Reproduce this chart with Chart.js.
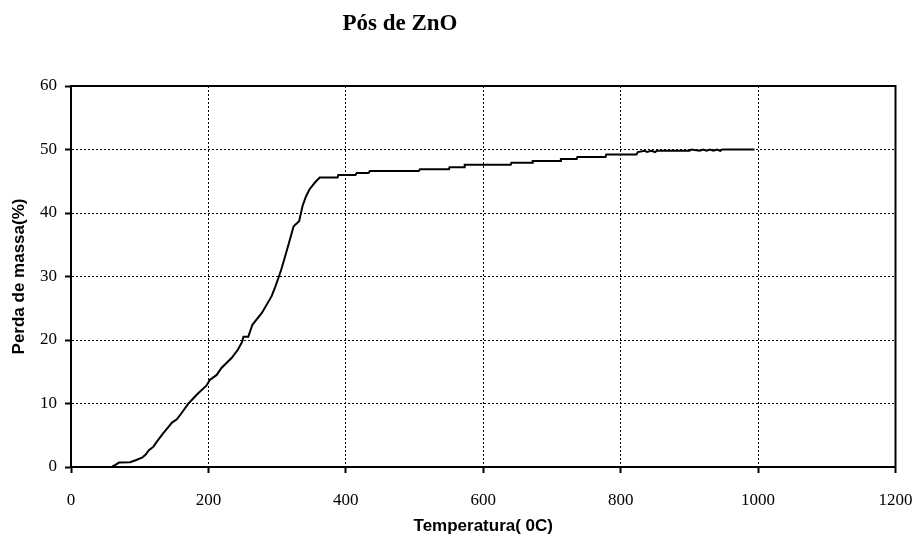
<!DOCTYPE html>
<html>
<head>
<meta charset="utf-8">
<script src="https://cdn.jsdelivr.net/npm/chart.js@4/dist/chart.umd.min.js"></script>
<style>
  html, body { margin: 0; padding: 0; background: #fff; }
  .wrap { position: relative; width: 914px; height: 537px; }
  .title {
    position: absolute; left: 0; top: 9px; width: 800px;
    text-align: center; font: bold 23px "Liberation Serif", "Times New Roman", serif;
    line-height: 27px; color: #000;
  }
</style>
</head>
<body>
<div class="wrap">
  <div class="title">Pós de ZnO</div>
  <canvas id="tgaChart" width="914" height="537"></canvas>
</div>
<script>
/* TGA curve */
const temperatures = [
  60, 64, 70, 86, 95, 104, 109, 113, 120, 125,
  134, 141, 147, 154, 161, 171, 184, 197, 202, 212,
  219, 234, 243, 249, 251, 258, 264, 278, 292, 297,
  302, 306, 311, 318, 324, 332, 337, 342, 347, 355,
  362, 388, 389, 414, 416, 433, 435, 506, 508, 550,
  551, 572, 573, 640, 641, 671, 672, 712, 713, 736,
  737, 778, 779, 823, 825, 835, 838, 845, 850, 853,
  900, 903, 915, 920, 925, 930, 935, 940, 945, 948,
  995
];
const massLoss = [
  0.1, 0.3, 0.7, 0.75, 1.1, 1.5, 2.0, 2.6, 3.2, 4.0,
  5.3, 6.2, 7.0, 7.5, 8.5, 10.0, 11.5, 12.8, 13.7, 14.5,
  15.6, 17.2, 18.5, 19.7, 20.5, 20.5, 22.4, 24.3, 26.9, 28.3,
  29.8, 31.1, 32.9, 35.6, 37.9, 38.7, 41.1, 42.6, 43.7, 44.8,
  45.6, 45.6, 46.0, 46.0, 46.3, 46.3, 46.6, 46.6, 46.9, 46.9,
  47.2, 47.2, 47.6, 47.6, 47.9, 47.9, 48.2, 48.2, 48.5, 48.5,
  48.8, 48.8, 49.2, 49.2, 49.6, 49.8, 49.6, 49.8, 49.6, 49.8,
  49.8, 50.0, 49.8, 50.0, 49.8, 50.0, 49.8, 50.0, 49.8, 50.0,
  50.0
];
const xTicks = [0, 200, 400, 600, 800, 1000, 1200];
const yTicks = [0, 10, 20, 30, 40, 50, 60];

const SERIF = "'Liberation Serif', 'Times New Roman', serif";
const SANS = "'Liberation Sans', Arial, sans-serif";

const points = temperatures.map((t, i) => ({ x: t, y: massLoss[i] }));

// grid lines at the frame edges are hidden, the frame is drawn solid instead
function gridColor(ticks) {
  return (ctx) => {
    const v = ctx.tick ? ctx.tick.value : null;
    return v === ticks[0] || v === ticks[ticks.length - 1] ? "rgba(0,0,0,0)" : "#000";
  };
}

const framePlugin = {
  id: "frame",
  afterDraw(chart) {
    const { ctx, chartArea: a } = chart;
    ctx.save();
    ctx.strokeStyle = "#000";
    ctx.lineWidth = 2;
    ctx.strokeRect(a.left, a.top, a.right - a.left, a.bottom - a.top);
    ctx.restore();
  },
};

new Chart(document.getElementById("tgaChart"), {
  type: "line",
  data: {
    datasets: [
      {
        data: points,
        borderColor: "#000",
        borderWidth: 2,
        pointRadius: 0,
        tension: 0,
        fill: false,
      },
    ],
  },
  options: {
    responsive: false,
    animation: false,
    layout: { padding: { top: 86, right: 0, left: 0, bottom: 0 } },
    plugins: {
      legend: { display: false },
      tooltip: { enabled: false },
    },
    scales: {
      x: {
        type: "linear",
        min: xTicks[0],
        max: xTicks[xTicks.length - 1],
        afterBuildTicks: (s) => { s.ticks = xTicks.map((v) => ({ value: v })); },
        afterFit: (s) => {
          s.height = 70;
          s.paddingLeft = 0;
          s.paddingRight = 18.5;
        },
        ticks: {
          color: "#000",
          padding: 17,
          maxRotation: 0,
          callback: (v) => String(v),
          font: { family: SERIF, size: 17 },
        },
        grid: {
          color: gridColor(xTicks),
          lineWidth: 1,
          tickColor: "#000",
          tickLength: 6,
          tickWidth: 2,
        },
        border: { display: true, color: "#000", width: 2, dash: [2, 2] },
        title: {
          display: true,
          text: "Temperatura( 0C)",
          color: "#000",
          padding: { top: 0, bottom: 0 },
          font: { family: SANS, size: 17, weight: "bold", lineHeight: 1.2 },
        },
      },
      y: {
        min: yTicks[0],
        max: yTicks[yTicks.length - 1],
        afterBuildTicks: (s) => { s.ticks = yTicks.map((v) => ({ value: v })); },
        afterFit: (s) => { s.width = 71; },
        ticks: {
          color: "#000",
          padding: 8,
          callback: (v) => String(v),
          font: { family: SERIF, size: 17 },
        },
        grid: {
          color: gridColor(yTicks),
          lineWidth: 1,
          tickColor: "#000",
          tickLength: 6,
          tickWidth: 2,
        },
        border: { display: true, color: "#000", width: 2, dash: [2, 2] },
        title: {
          display: true,
          text: "Perda de massa(%)",
          color: "#000",
          padding: { top: 9, bottom: 0 },
          font: { family: SANS, size: 17, weight: "bold", lineHeight: 1.2 },
        },
      },
    },
  },
  plugins: [framePlugin],
});
</script>
</body>
</html>
